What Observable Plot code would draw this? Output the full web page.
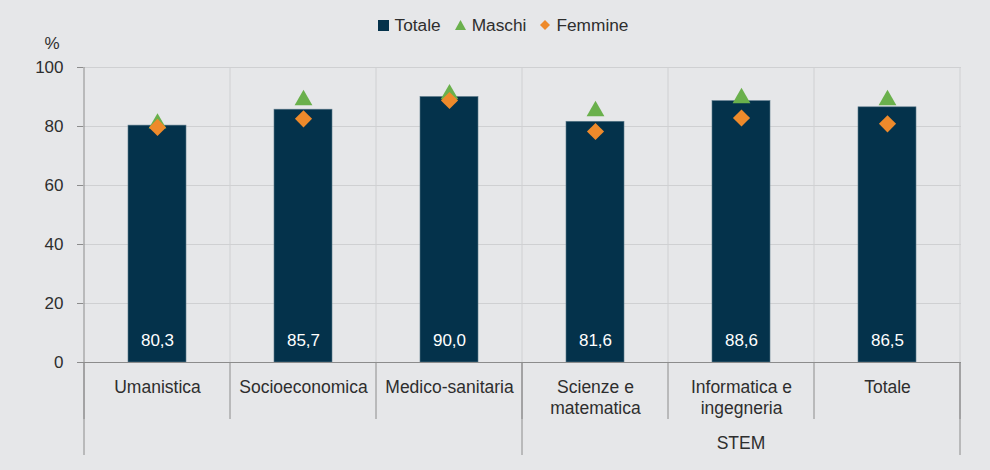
<!DOCTYPE html>
<html><head><meta charset="utf-8">
<script src="https://cdn.jsdelivr.net/npm/d3@7"></script>
<script src="https://cdn.jsdelivr.net/npm/@observablehq/plot@0.6"></script>
<style>
html,body{margin:0;padding:0;background:#e6e7e9;}
body{width:990px;height:470px;overflow:hidden;font-family:"Liberation Sans",Arial,sans-serif;color:#2e2e2e;}
#legend{height:33px;display:flex;justify-content:center;align-items:flex-start;padding-left:16px;box-sizing:border-box;font-size:17.3px;overflow:visible;}
.item{display:flex;align-items:center;margin-top:14px;line-height:22px;}
.item svg{margin-right:6px;}
.item + .item{margin-left:14px;}
#chart svg{display:block;overflow:visible;}
</style></head><body>
<div id="legend"></div>
<div id="chart"></div>
<script>
const categories = ["Umanistica","Socioeconomica","Medico-sanitaria","Scienze e\nmatematica","Informatica e\ningegneria","Totale"];
const totale = [80.3, 85.7, 90.0, 81.6, 88.6, 86.5];
const maschi = [81.9, 89.8, 91.8, 86.1, 90.5, 89.8];
const femmine = [79.7, 82.6, 88.8, 78.3, 82.9, 80.9];
const yTicks = [0, 20, 40, 60, 80, 100];
const groupLabel = "STEM";
const groupFrom = "Scienze e\nmatematica";
const seriesNames = ["Totale", "Maschi", "Femmine"];
const colors = ["#04324b", "#6ab04c", "#ee8a2b"];

// legend
const legendSymbols = [
  `<svg width="11" height="11"><rect width="11" height="11" fill="${colors[0]}"/></svg>`,
  `<svg width="11" height="10"><path d="M5.5,0L11,10L0,10Z" fill="${colors[1]}"/></svg>`,
  `<svg width="10" height="10"><path d="M5,0L10,5L5,10L0,5Z" fill="${colors[2]}"/></svg>`
];
document.getElementById("legend").innerHTML = seriesNames.map((n, i) =>
  `<div class="item">${legendSymbols[i]}<span>${n}</span></div>`).join("");

const rows = categories.map((c, i) => ({
  cat: c, totale: totale[i], maschi: maschi[i], femmine: femmine[i],
  label: totale[i].toFixed(1).replace(".", ",")
}));

const plot = Plot.plot({
  width: 990, height: 437,
  marginLeft: 83, marginRight: 29, marginTop: 34, marginBottom: 108,
  style: {background: "transparent", fontFamily: "Liberation Sans, Arial, sans-serif", fontSize: "17px", color: "#2e2e2e"},
  x: {domain: categories, paddingInner: 0.6, paddingOuter: 0.3, label: null},
  y: {domain: [0, 100], label: null},
  marks: [
    Plot.ruleY(yTicks.filter(d => d > 0), {stroke: "#cfd0d2", strokeWidth: 1}),
    Plot.barY(rows, {x: "cat", y: "totale", fill: colors[0], stroke: "#5c7a8b", strokeWidth: 0.6}),
    Plot.ruleY([0], {stroke: "#8c8c8c"}),
    Plot.axisY({ticks: yTicks, tickSize: 6, tickPadding: 14, stroke: "#8c8c8c", fill: "#2e2e2e", fontSize: 17, label: null}),
    Plot.axisX({tickSize: 0, tickPadding: 16, fontSize: 17.5, lineHeight: 1.2, fill: "#2e2e2e", label: null}),
    Plot.text(rows, {x: "cat", y: 0, text: "label", dy: -22, fill: "white", fontSize: 17}),
    Plot.dot(rows, {x: "cat", y: "maschi", symbol: "triangle", r: 6.6, fill: colors[1], dy: 2.5}),
    Plot.dot(rows, {x: "cat", y: "femmine", symbol: "diamond2", r: 7.7, fill: colors[2]}),
    Plot.text(["%"], {text: d => d, frameAnchor: "top-left", dx: -39, dy: -31, fontSize: 17, fill: "#2e2e2e"})
  ]
});
document.getElementById("chart").appendChild(plot);

// separators and group axis, using the plot's own scales
const svg = d3.select(plot);
const xs = plot.scale("x"), ys = plot.scale("y");
const off = (xs.step - xs.bandwidth) / 2;
const y100 = ys.apply(100), y0 = ys.apply(0);
const bounds = categories.map(c => xs.apply(c) - off);
bounds.push(bounds[bounds.length - 1] + xs.step);
const g = svg.insert("g", ":first-child");
const g2 = svg.append("g");
bounds.slice(1).forEach(b => {
  g.append("line").attr("x1", b).attr("x2", b).attr("y1", y100).attr("y2", y0)
    .attr("stroke", "#cfd0d2");
});
bounds.forEach(b => {
  g2.append("line").attr("x1", b).attr("x2", b).attr("y1", y0).attr("y2", y0 + 57)
    .attr("stroke", "#8c8c8c");
});
const gi = categories.indexOf(groupFrom);
[bounds[0], bounds[gi], bounds[bounds.length - 1]].forEach(b => {
  g2.append("line").attr("x1", b).attr("x2", b).attr("y1", y0).attr("y2", y0 + 93)
    .attr("stroke", "#8c8c8c");
});
g2.append("line").attr("x1", bounds[0]).attr("x2", bounds[0]).attr("y1", y100).attr("y2", y0)
  .attr("stroke", "#8c8c8c");
g2.append("text").attr("x", (bounds[gi] + bounds[bounds.length - 1]) / 2).attr("y", y0 + 87)
  .attr("text-anchor", "middle").attr("font-size", 17.5).attr("fill", "#2e2e2e").text(groupLabel);
</script>
</body></html>
